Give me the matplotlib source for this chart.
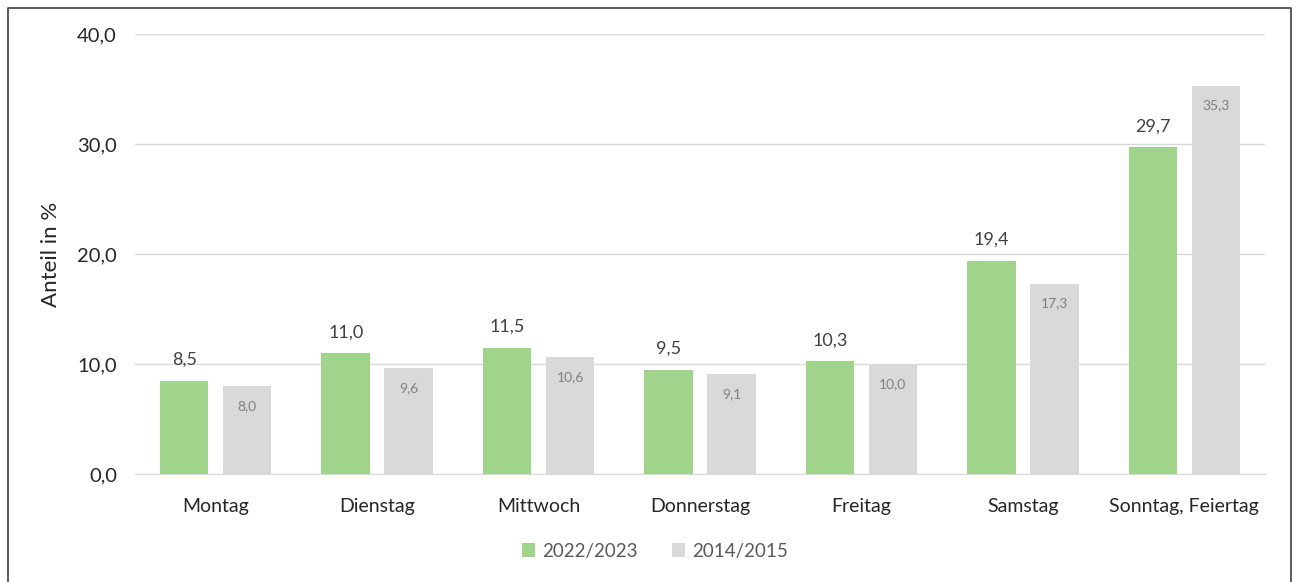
import matplotlib.pyplot as plt
import numpy as np
from matplotlib.lines import Line2D

plt.rcParams['font.family'] = ['Lato', 'DejaVu Sans']

# data
tage = ['Montag', 'Dienstag', 'Mittwoch', 'Donnerstag', 'Freitag', 'Samstag', 'Sonntag, Feiertag']
werte_2022 = [8.5, 11.0, 11.5, 9.5, 10.3, 19.4, 29.7]
werte_2014 = [8.0, 9.6, 10.6, 9.1, 10.0, 17.3, 35.3]
y_ticks = [0, 10, 20, 30, 40]

gruen = '#A0D48A'
grau = '#D9D9D9'

fig = plt.figure(figsize=(12.98, 5.82), dpi=100)
ax = fig.add_axes([135 / 1298, 1 - 474 / 582, 1130 / 1298, 440 / 582])

x = np.arange(len(tage))
breite = 0.30
versatz = 0.195

b1 = ax.bar(x - versatz, werte_2022, breite, color=gruen, label='2022/2023', zorder=3)
b2 = ax.bar(x + versatz, werte_2014, breite, color=grau, label='2014/2015', zorder=3)

def fmt(v):
    return f'{v:.1f}'.replace('.', ',')

# labels: green above the bar, grey inside the bar top
for rect, v in zip(b1, werte_2022):
    ax.annotate(fmt(v), (rect.get_x() + rect.get_width() / 2, v), xytext=(0, 9),
                textcoords='offset points', ha='center', va='bottom',
                fontsize=13, color='#404040')
for rect, v in zip(b2, werte_2014):
    ax.annotate(fmt(v), (rect.get_x() + rect.get_width() / 2, v), xytext=(0, -10),
                textcoords='offset points', ha='center', va='top',
                fontsize=10, color='#808080')

ax.set_xlim(-0.5, len(tage) - 0.5)
ax.set_ylim(0, 40)
ax.set_yticks(y_ticks)
ax.set_yticklabels([fmt(v) for v in y_ticks], fontsize=14.5, color='#262626')
ax.set_xticks(x)
ax.set_xticklabels(tage, fontsize=14, color='#262626')
ax.tick_params(axis='both', length=0)
ax.tick_params(axis='y', pad=13)
ax.tick_params(axis='x', pad=17)
ax.grid(axis='y', color='#D9D9D9', linewidth=1, zorder=0)
for s in ['top', 'right', 'left']:
    ax.spines[s].set_visible(False)
ax.spines['bottom'].set_color('#D9D9D9')
ax.set_ylabel('Anteil in %', fontsize=16, color='#262626', labelpad=12)

fig.legend(loc='center', bbox_to_anchor=(655 / 1298, 1 - 551 / 582), ncol=2,
           frameon=False, fontsize=13.5, handlelength=0.7, handleheight=0.7,
           handletextpad=0.4, columnspacing=1.8, labelcolor='#595959')

# frame around the image (open at the bottom)
rand = '#404040'
l, r, t = 7.5 / 1298, 1290.5 / 1298, 1 - 7.5 / 582
fig.add_artist(Line2D([l, l, r, r], [0, t, t, 0], color=rand, linewidth=1.2))

fig.savefig('out.png', dpi=100)
